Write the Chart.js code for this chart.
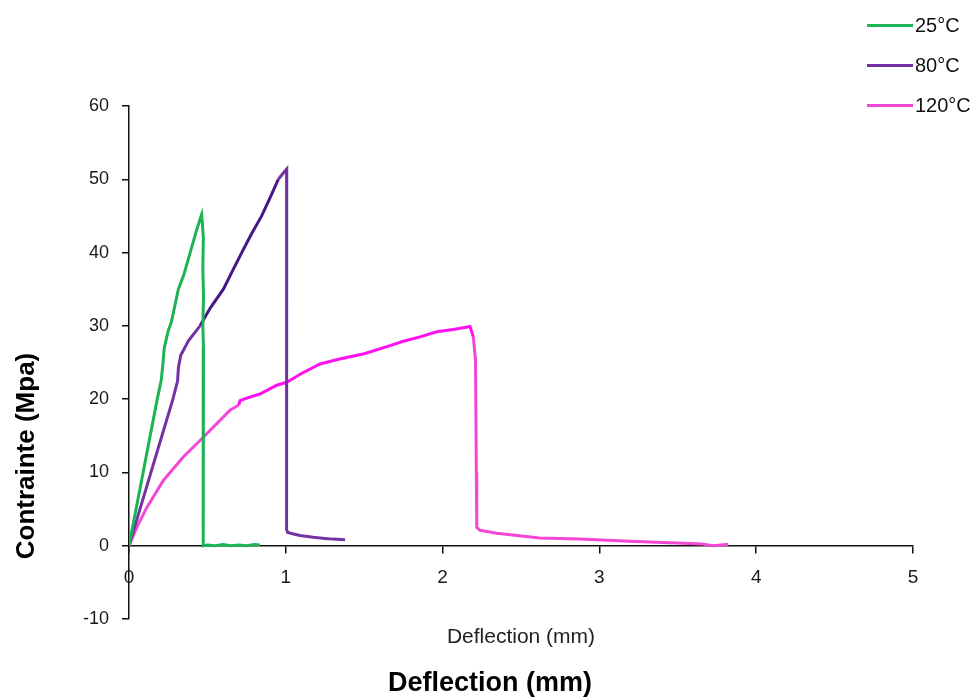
<!DOCTYPE html>
<html>
<head>
<meta charset="utf-8">
<script src="https://cdn.jsdelivr.net/npm/chart.js@4.4.0/dist/chart.umd.min.js"></script>
<style>
  html, body { margin: 0; padding: 0; background: #fff; }
  #wrap { position: relative; width: 976px; height: 697px; }
  #legend { position: absolute; left: 867px; top: 5px; font-family: "Liberation Sans", Arial, sans-serif; font-size: 20px; color: #111; }
  .item { display: flex; align-items: center; height: 40px; }
  .swatch { width: 46px; height: 3px; margin-right: 2px; }
</style>
</head>
<body>
<div id="wrap">
  <canvas id="chart" width="976" height="697"></canvas>
  <div id="legend"></div>
</div>
<script>
const seriesNames = ["25°C", "80°C", "120°C"];
const seriesColors = ["#1db254", "#7332a3", "#f347d6"];
// darker / brighter stretches of the traces as seen in the picture
const accentColors = [null, "#4a1684", "#ff10f0"];
const accentRanges = [null, [9, 17], [8, 25]];

const xTitle = "Deflection (mm)";
const yTitle = "Contrainte (Mpa)";

// 25°C
const x25 = [0, 0.045, 0.09, 0.135, 0.18, 0.205, 0.215, 0.225, 0.25, 0.27, 0.29, 0.315, 0.35, 0.39, 0.43, 0.463,
  0.468, 0.474, 0.471, 0.475, 0.471, 0.475, 0.472, 0.474, 0.474, 0.5, 0.55, 0.6, 0.65, 0.7, 0.75, 0.8, 0.835];
const y25 = [0, 5, 10, 15, 20, 22.5, 24.5, 27, 29.3, 30.5, 32.5, 35, 37, 40, 43, 45.2,
  44, 42, 38, 34, 30, 27, 26, 10, 0, 0.1, 0, 0.15, 0, 0.1, 0, 0.15, 0.1];

// 80°C
const x80 = [0, 0.07, 0.14, 0.21, 0.28, 0.31, 0.315, 0.33, 0.38, 0.453, 0.52, 0.602, 0.66, 0.719, 0.78, 0.846,
  0.9, 0.952, 0.99, 1.006, 1.006, 1.004, 1.012, 1.05, 1.09, 1.175, 1.25, 1.3, 1.378];
const y80 = [0, 5, 10, 15, 20, 22.5, 24.3, 26, 28, 30, 32.5, 35, 37.5, 40, 42.5, 45,
  47.5, 50, 51, 51.4, 30, 2.2, 1.8, 1.6, 1.4, 1.15, 1.0, 0.9, 0.8];

// 120°C
const x120 = [0, 0.05, 0.113, 0.219, 0.346, 0.464, 0.58, 0.644, 0.7, 0.708, 0.76, 0.835, 0.942, 1.006, 1.1, 1.218,
  1.35, 1.5, 1.65, 1.75, 1.856, 1.962, 2.068, 2.15, 2.175, 2.196, 2.21, 2.215, 2.218, 2.239, 2.345, 2.62,
  2.876, 3.195, 3.4, 3.578, 3.65, 3.727, 3.822];
const y120 = [0, 2.5, 5.2, 8.9, 12.1, 14.6, 17.1, 18.5, 19.2, 19.8, 20.2, 20.7, 21.9, 22.3, 23.5, 24.8,
  25.5, 26.2, 27.2, 27.9, 28.5, 29.2, 29.5, 29.8, 29.9, 28.5, 25.3, 10, 2.5, 2.1, 1.7, 1.05,
  0.9, 0.6, 0.45, 0.3, 0.25, 0.0, 0.2];

const xTicks = [0, 1, 2, 3, 4, 5];
const yTicks = [-10, 0, 10, 20, 30, 40, 50, 60];

const xs = [x25, x80, x120];
const ys = [y25, y80, y120];

const FONT = "'Liberation Sans', Arial, sans-serif";

const datasets = seriesNames.map((name, i) => ({
  label: name,
  data: xs[i].map((x, j) => ({ x: x, y: ys[i][j] })),
  borderColor: seriesColors[i],
  backgroundColor: seriesColors[i],
  borderWidth: 3,
  pointRadius: 0,
  showLine: true,
  tension: 0,
  fill: false,
  segment: {
    borderColor: (ctx) => {
      const r = accentRanges[i];
      if (r && ctx.p0DataIndex >= r[0] && ctx.p0DataIndex < r[1]) return accentColors[i];
      return undefined;
    },
  },
}));

// bold outer titles, placed as in the picture
const outerTitles = {
  id: "outerTitles",
  afterDraw(chart) {
    const ctx = chart.ctx;
    ctx.save();
    ctx.fillStyle = "#000";
    ctx.textAlign = "center";
    ctx.textBaseline = "middle";
    ctx.font = "bold 27px " + FONT;
    ctx.fillText(xTitle, 490, 684);
    ctx.translate(27, 456);
    ctx.rotate(-Math.PI / 2);
    ctx.font = "bold 26px " + FONT;
    ctx.fillText(yTitle, 0, 0);
    ctx.restore();
  },
};

const tickFont = { family: FONT, size: 18 };

new Chart(document.getElementById("chart"), {
  type: "scatter",
  data: { datasets: datasets },
  plugins: [outerTitles],
  options: {
    responsive: false,
    animation: false,
    layout: { padding: { left: 0, right: 63, top: 106, bottom: 78 } },
    plugins: {
      legend: { display: false },
      tooltip: { enabled: false },
    },
    scales: {
      x: {
        type: "linear",
        position: { y: 0 },
        min: xTicks[0],
        max: xTicks[xTicks.length - 1],
        afterBuildTicks: (s) => { s.ticks = xTicks.map((v) => ({ value: v })); },
        ticks: { color: "#1a1a1a", font: { family: FONT, size: 19 }, padding: 14, maxRotation: 0 },
        grid: { drawOnChartArea: false, drawTicks: true, tickLength: 7, color: "#111", lineWidth: 1.5 },
        border: { color: "#111", width: 1.5 },
        title: {
          display: true,
          text: xTitle,
          color: "#222",
          font: { family: FONT, size: 21 },
          padding: { top: 21, bottom: 0 },
        },
      },
      y: {
        type: "linear",
        min: yTicks[0],
        max: yTicks[yTicks.length - 1],
        afterBuildTicks: (s) => { s.ticks = yTicks.map((v) => ({ value: v })); },
        afterFit: (s) => { s.width = 129; },
        ticks: { color: "#1a1a1a", font: tickFont, padding: 13 },
        grid: { drawOnChartArea: false, drawTicks: true, tickLength: 7, color: "#111", lineWidth: 1.5 },
        border: { color: "#111", width: 1.5 },
        title: { display: false },
      },
    },
  },
});

// legend built from the series arrays
const legend = document.getElementById("legend");
seriesNames.forEach((name, i) => {
  const item = document.createElement("div");
  item.className = "item";
  const sw = document.createElement("span");
  sw.className = "swatch";
  sw.style.background = seriesColors[i];
  const txt = document.createElement("span");
  txt.textContent = name;
  item.appendChild(sw);
  item.appendChild(txt);
  legend.appendChild(item);
});
</script>
</body>
</html>
